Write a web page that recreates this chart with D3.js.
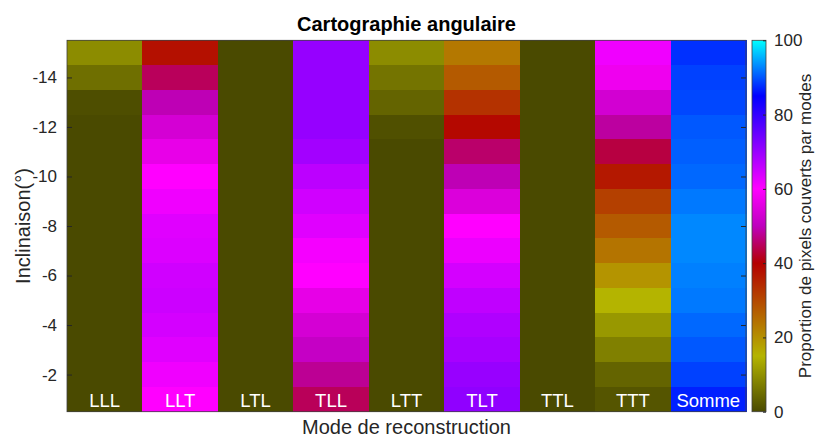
<!DOCTYPE html>
<html>
<head>
<meta charset="utf-8">
<script src="https://cdn.jsdelivr.net/npm/d3@7"></script>
<style>
    body { margin: 0; background: #fff; }
    text { font-family: "Liberation Sans", Arial, Helvetica, sans-serif; }
</style>
</head>
<body>
<div class="HeatMap"></div>
<script>
// modes and inclinations (top to bottom)
let modes = ["LLL", "LLT", "LTL", "TLL", "LTT", "TLT", "TTL", "TTT", "Somme"];
let inclinaisons = [-15, -14, -13, -12, -11, -10, -9, -8, -7, -6, -5, -4, -3, -2, -1];
let yTicks = [-14, -12, -10, -8, -6, -4, -2];
let cbTicks = [0, 20, 40, 60, 80, 100];

// proportion of pixels (%) for each mode, one value per inclination
let valLLL = [9.3, 5.3, 0.5, 0, 0, 0, 0, 0, 0, 0, 0, 0, 0, 0, 0];
let valLLT = [37.8, 44.8, 49.5, 53.4, 56.5, 60, 61.5, 63, 63.4, 64.6, 65, 64.2, 63, 61.5, 60];
let valLTL = [0, 0, 0, 0, 0, 0, 0, 0, 0, 0, 0, 0, 0, 0, 0];
let valTLL = [70.3, 70.3, 70.3, 70.3, 69, 66.6, 64.6, 63, 61, 60, 56.3, 53.4, 51, 47.8, 44.7];
let valLTT = [9.3, 5.9, 3.7, 0.8, 0, 0, 0, 0, 0, 0, 0, 0, 0, 0, 0];
let valTLT = [23.3, 27.5, 33.1, 38.9, 45.6, 49.5, 54.5, 60, 61.9, 64.2, 66.2, 67.7, 68.6, 70.1, 70.9];
let valTTL = [0, 0, 0, 0, 0, 0, 0, 0, 0, 0, 0, 0, 0, 0, 0];
let valTTT = [61.5, 57.5, 53, 48.4, 43.4, 36.7, 31.1, 27.5, 23.9, 19.4, 15, 11, 7.6, 3.7, 1.6];
let valSomme = [87.8, 88.8, 89.2, 90.2, 90.6, 91.1, 92.1, 93, 93, 92.5, 92.1, 91.1, 90.2, 88.8, 86.9];

// colormap anchors
let cmapStops = [0, 15, 40, 50, 60, 85, 100];
let cmapColors = ["#4a4a00", "#b4b400", "#b40000", "#be00be", "#ff00ff", "#0000ff", "#00ffff"];

class HeatMap
{
    constructor(columns)
    {
        this.columns = columns;
    }

    drawChart()
    {
        let that = this;
        let width = 819, height = 439;
        let margin = {top: 40.3, left: 67, right: 73, bottom: 27.3};
        let plotW = width - margin.left - margin.right;
        let plotH = height - margin.top - margin.bottom;
        let txt = "#262626";

        let cells = [];
        this.columns.forEach(function(col){
            col.values.forEach(function(v, i){
                cells.push({mode: col.mode, inc: inclinaisons[i], value: v});
            });
        });

        let xScale = d3.scaleBand()
                    .domain(modes)
                    .range([margin.left, margin.left + plotW]);

        let yScale = d3.scaleLinear()
                    .domain([-15.5, -0.5])
                    .range([margin.top, margin.top + plotH]);

        let color = d3.scaleLinear()
                    .domain(cmapStops)
                    .range(cmapColors)
                    .interpolate(d3.interpolateRgb)
                    .clamp(true);

        let svg = d3.select(".HeatMap")
                    .append("svg")
                    .attr("width", width)
                    .attr("height", height);

        svg.append("rect")
            .attr("width", width).attr("height", height)
            .attr("fill", "#fff");

        svg.selectAll(".cell")
            .data(cells)
            .enter()
            .append("rect")
            .classed("cell", true)
            .attr("x", d => xScale(d.mode))
            .attr("y", d => yScale(d.inc - 0.5))
            .attr("width", xScale.bandwidth() + 0.5)
            .attr("height", yScale(1) - yScale(0) + 0.5)
            .attr("fill", d => color(d.value))
            .attr("shape-rendering", "crispEdges");

        // mode names inside the bottom row
        svg.selectAll(".modeLabel")
            .data(modes)
            .enter()
            .append("text")
            .attr("x", d => xScale(d) + xScale.bandwidth() / 2)
            .attr("y", yScale(-0.5) - 4.5)
            .style("text-anchor", "middle")
            .style("font-size", "18.5px")
            .style("fill", "#fff")
            .text(d => d);

        // box
        svg.append("rect")
            .attr("x", margin.left).attr("y", margin.top)
            .attr("width", plotW).attr("height", plotH)
            .attr("fill", "none")
            .attr("stroke", "#404040")
            .attr("stroke-width", 0.8);

        let yAxis = d3.axisLeft(yScale)
                    .tickValues(yTicks)
                    .tickFormat(d => String(d))
                    .tickSizeInner(-5)
                    .tickSizeOuter(0)
                    .tickPadding(10);

        let yAxisG = svg.append("g")
                    .attr("transform", "translate(" + margin.left + ",0)")
                    .call(yAxis);
        yAxisG.select(".domain").remove();
        yAxisG.selectAll("line").attr("stroke", txt);
        yAxisG.selectAll("text")
            .style("font-size", "17px")
            .style("fill", txt)
            .style("font-family", "Liberation Sans, Arial, sans-serif");

        let yAxisR = svg.append("g")
                    .attr("transform", "translate(" + (margin.left + plotW) + ",0)")
                    .call(d3.axisRight(yScale).tickValues(yTicks).tickSizeInner(-5).tickSizeOuter(0).tickFormat(""));
        yAxisR.select(".domain").remove();
        yAxisR.selectAll("line").attr("stroke", txt);

        // colorbar
        let cbX = 752, cbW = 14;
        let cbScale = d3.scaleLinear()
                    .domain([0, 100])
                    .range([margin.top + plotH, margin.top]);

        let grad = svg.append("defs")
                    .append("linearGradient")
                    .attr("id", "cmap")
                    .attr("x1", 0).attr("y1", 1)
                    .attr("x2", 0).attr("y2", 0);
        grad.selectAll("stop")
            .data(cmapStops)
            .enter()
            .append("stop")
            .attr("offset", d => d / 100)
            .attr("stop-color", d => color(d));

        svg.append("rect")
            .attr("x", cbX).attr("y", margin.top)
            .attr("width", cbW).attr("height", plotH)
            .attr("fill", "url(#cmap)")
            .attr("stroke", "#404040")
            .attr("stroke-width", 0.8);

        let cbAxis = svg.append("g")
                    .attr("transform", "translate(" + (cbX + cbW) + ",0)")
                    .call(d3.axisRight(cbScale).tickValues(cbTicks).tickSizeInner(-3).tickSizeOuter(0).tickPadding(8));
        cbAxis.select(".domain").remove();
        cbAxis.selectAll("line").attr("stroke", txt);
        cbAxis.selectAll("text")
            .style("font-size", "17px")
            .style("fill", txt)
            .style("font-family", "Liberation Sans, Arial, sans-serif");

        // titles
        svg.append("text")
            .attr("x", margin.left + plotW / 2)
            .attr("y", 31)
            .style("text-anchor", "middle")
            .style("font-weight", "bold")
            .style("font-size", "20px")
            .style("fill", "#000")
            .text("Cartographie angulaire");

        svg.append("text")
            .attr("x", margin.left + plotW / 2)
            .attr("y", 434)
            .style("text-anchor", "middle")
            .style("font-size", "20px")
            .style("fill", txt)
            .text("Mode de reconstruction");

        svg.append("text")
            .attr("transform", "translate(30," + (margin.top + plotH / 2) + ") rotate(-90)")
            .style("text-anchor", "middle")
            .style("font-size", "20px")
            .style("fill", txt)
            .text("Inclinaison(°)");

        svg.append("text")
            .attr("transform", "translate(811," + (margin.top + plotH / 2) + ") rotate(-90)")
            .style("text-anchor", "middle")
            .style("font-size", "17px")
            .style("fill", txt)
            .text("Proportion de pixels couverts par modes");
    }
}

let chart = new HeatMap([
    {mode: "LLL", values: valLLL},
    {mode: "LLT", values: valLLT},
    {mode: "LTL", values: valLTL},
    {mode: "TLL", values: valTLL},
    {mode: "LTT", values: valLTT},
    {mode: "TLT", values: valTLT},
    {mode: "TTL", values: valTTL},
    {mode: "TTT", values: valTTT},
    {mode: "Somme", values: valSomme}
]);
chart.drawChart();
</script>
</body>
</html>
